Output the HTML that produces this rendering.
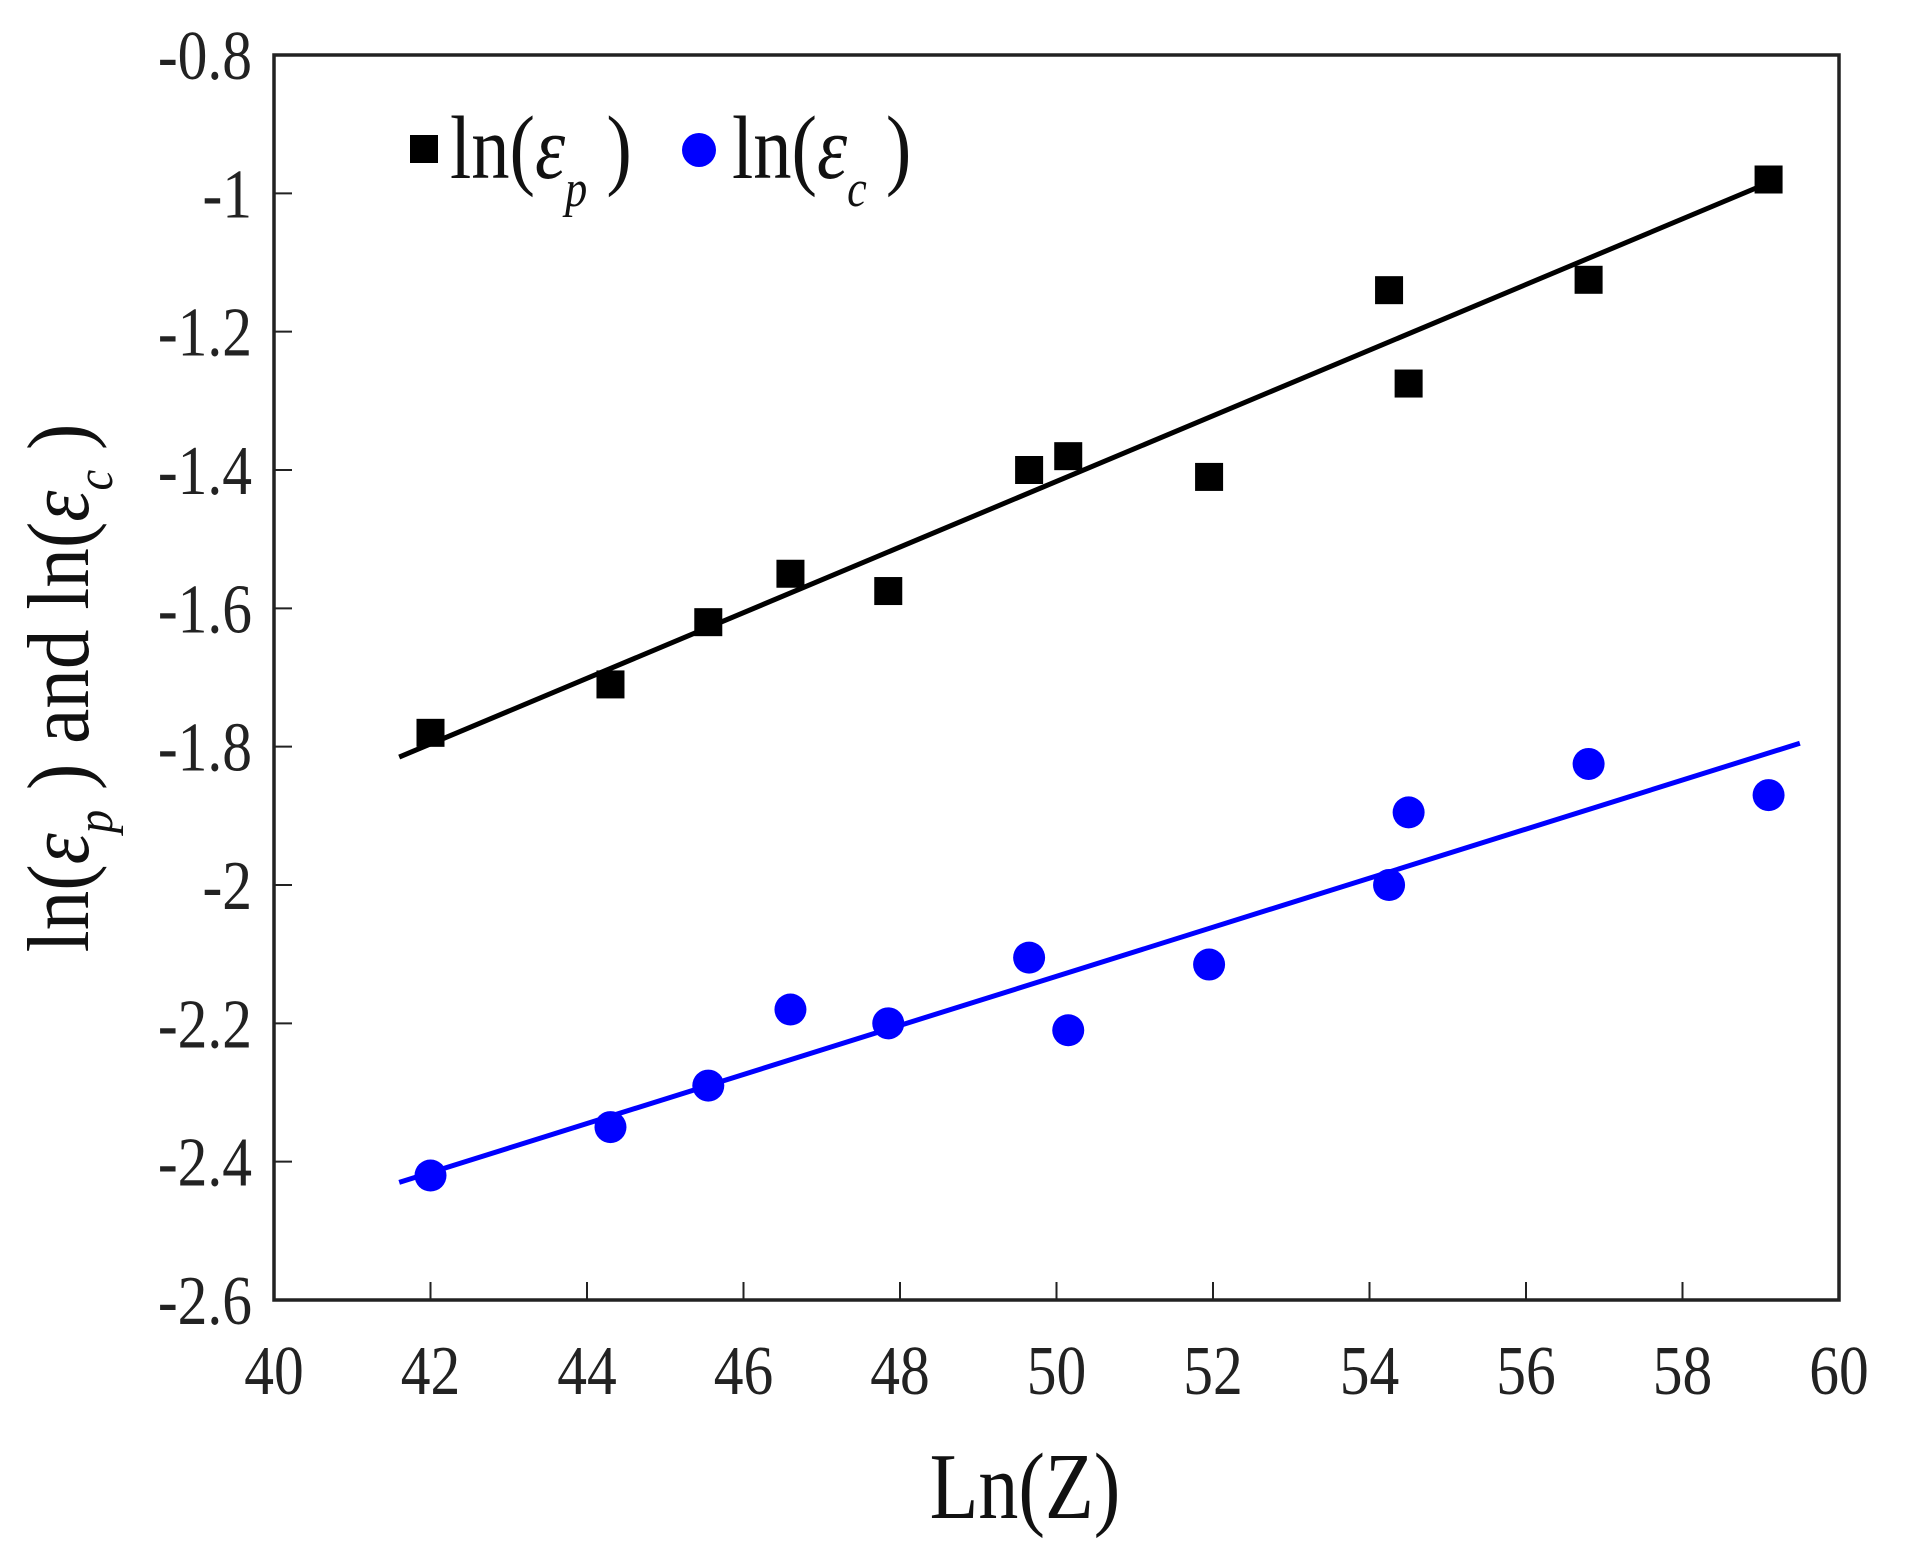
<!DOCTYPE html>
<html><head><meta charset="utf-8"><style>
body{margin:0;background:#fff}
svg{display:block;font-family:"Liberation Serif",serif}
</style></head><body>
<svg id="chart" width="1905" height="1554"></svg>
<script>
const xTicks=[40,42,44,46,48,50,52,54,56,58,60];
const yTicks=[-0.8,-1,-1.2,-1.4,-1.6,-1.8,-2,-2.2,-2.4,-2.6];
const yTickLabels=["-0.8","-1","-1.2","-1.4","-1.6","-1.8","-2","-2.2","-2.4","-2.6"];
const lnZ=[42,44.3,45.55,46.6,47.85,49.65,50.15,51.95,54.25,54.5,56.8,59.1];
const epsP=[-1.78,-1.71,-1.62,-1.55,-1.575,-1.40,-1.38,-1.41,-1.14,-1.275,-1.125,-0.98];
const epsC=[-2.42,-2.35,-2.29,-2.18,-2.20,-2.105,-2.21,-2.115,-2.0,-1.895,-1.825,-1.87];
const fitPx=[41.6,59.2], fitPy=[-1.815,-0.98];
const fitCx=[41.6,59.5], fitCy=[-2.43,-1.795];

const L=274,R=1839,T=55,B=1300;
const sx=v=>L+(v-40)/(60-40)*(R-L);
const sy=v=>T+(v+0.8)/(-2.6+0.8)*(B-T);
const svg=document.getElementById('chart');
const NS='http://www.w3.org/2000/svg';
function mk(t,a,p){const e=document.createElementNS(NS,t);for(const k in a)e.setAttribute(k,a[k]);(p||svg).appendChild(e);return e;}

const frame=mk('rect',{x:L,y:T,width:R-L,height:B-T,fill:'none',stroke:'#222','stroke-width':3.5});



xTicks.forEach(v=>{
  const tk=mk('line',{x1:sx(v),x2:sx(v),y1:B,y2:B-18,stroke:'#222','stroke-width':2});
  
  
  const t=mk('text',{transform:`translate(${sx(v)},1394) scale(0.85,1)`,'text-anchor':'middle','font-size':70,fill:'#222'});
  t.textContent=v;
  
  
});
yTicks.forEach((v,i)=>{
  const tk=mk('line',{x1:L,x2:L+18,y1:sy(v),y2:sy(v),stroke:'#222','stroke-width':2});
  
  
  const t=mk('text',{transform:`translate(252,${sy(v)+24}) scale(0.85,1)`,'text-anchor':'end','font-size':70,fill:'#222'});
  t.textContent=yTickLabels[i];
  
  
});

const lp=mk('line',{x1:sx(fitPx[0]),y1:sy(fitPy[0]),x2:sx(fitPx[1]),y2:sy(fitPy[1]),stroke:'#000','stroke-width':5});


const lc=mk('line',{x1:sx(fitCx[0]),y1:sy(fitCy[0]),x2:sx(fitCx[1]),y2:sy(fitCy[1]),stroke:'#0000ff','stroke-width':5});



lnZ.forEach((x,i)=>{
  const s=mk('rect',{x:sx(x)-14,y:sy(epsP[i])-14,width:28,height:28,fill:'#000'});
  
  
  const c=mk('circle',{cx:sx(x),cy:sy(epsC[i]),r:16,fill:'#0000ff'});
  
  
});
</script>
<svg style="position:absolute;left:0;top:0" width="1905" height="1554">
 <g font-family="Liberation Serif,serif" fill="#111">
  <rect x="410" y="135" width="28" height="28" fill="#000"/>
  <text x="450" y="178" font-size="90" transform="translate(450,0) scale(0.85,1) translate(-450,0)">ln(<tspan font-style="italic">ε</tspan><tspan font-style="italic" font-size="52" dy="28">p</tspan><tspan dy="-28"> )</tspan></text>
  <circle cx="699" cy="150" r="17" fill="#0000ff"/>
  <text x="732" y="178" font-size="90" transform="translate(732,0) scale(0.85,1) translate(-732,0)">ln(<tspan font-style="italic">ε</tspan><tspan font-style="italic" font-size="52" dy="28">c</tspan><tspan dy="-28"> )</tspan></text>
 </g>
 <text transform="translate(88,688) rotate(-90) scale(0.9,1)" text-anchor="middle" font-size="88" font-family="Liberation Serif,serif" fill="#111">ln(<tspan font-style="italic">ε</tspan><tspan font-style="italic" font-size="52" dy="24">p</tspan><tspan dy="-24"> ) and ln(</tspan><tspan font-style="italic">ε</tspan><tspan font-style="italic" font-size="52" dy="24">c</tspan><tspan dy="-24"> )</tspan></text>
 <text transform="translate(1025,1518) scale(0.85,1)" text-anchor="middle" font-size="94" font-family="Liberation Serif,serif" fill="#111">Ln(Z)</text>
</svg>
</body></html>
